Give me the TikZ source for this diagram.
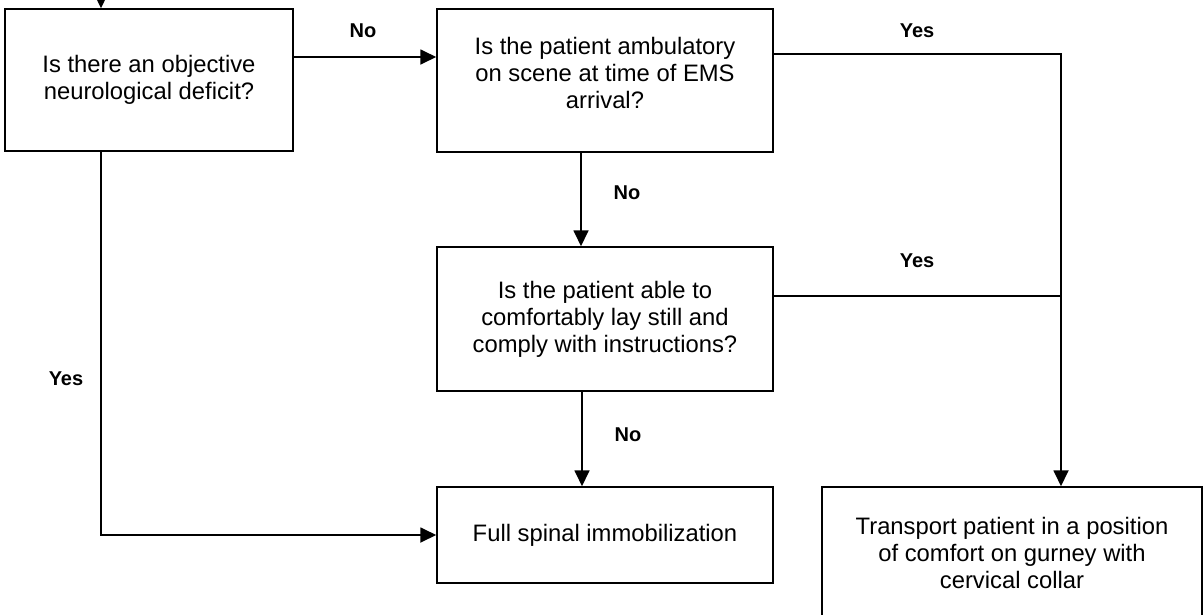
\documentclass[tikz,border=0pt]{standalone}
\usepackage{fontspec}
\setmainfont{Liberation Sans}
\usetikzlibrary{arrows.meta}
\begin{document}
\begin{tikzpicture}[x=1pt,y=-1pt,
  box/.style={draw=black,line width=1.5pt,rectangle,align=center,inner sep=0pt,
    font=\fontsize{23.8}{27}\selectfont},
  lbl/.style={font=\fontsize{20}{24}\selectfont\bfseries,inner sep=0pt},
  conn/.style={line width=1.8pt},
  arr/.style={conn,-{Triangle[length=16pt,width=15pt]}}]
\useasboundingbox (0,0) rectangle (1203,614);
\clip (0,0) rectangle (1203,614);
\node[box,minimum width=288pt,minimum height=142pt] (A) at (149,80) {Is there an objective\\neurological deficit?\\[-22pt]\mbox{}};
\node[box,minimum width=336pt,minimum height=143pt] (B) at (605,80.5) {Is the patient ambulatory\\on scene at time of EMS\\arrival?\\[-11pt]\mbox{}};
\node[box,minimum width=336pt,minimum height=144pt] (C) at (605,319) {Is the patient able to\\comfortably lay still and\\comply with instructions?};
\node[box,minimum width=336pt,minimum height=96pt] (D) at (605,535) {Full spinal immobilization};
\node[box,minimum width=380pt,minimum height=132pt] (E) at (1012,553) {Transport patient in a position\\of comfort on gurney with\\cervical collar};
\coordinate (S) at (101,-30);
\coordinate (J) at (1061,54);
\coordinate (K) at (1061,296);
\coordinate (L) at (101,535);
% connectors
\draw[arr] (S) -- (S |- A.north);
\draw[arr] (A.east |- 0,57) -- (B.west |- 0,57);
\draw[conn] (B.east |- J) -- (J) -- (K);
\draw[conn] (C.east |- K) -- (K);
\draw[arr] (K) -- (E.north -| K);
\draw[arr] (B.south -| 581,0) -- (C.north -| 581,0);
\draw[arr] (C.south -| 582,0) -- (D.north -| 582,0);
\draw[arr] (A.south -| L) -- (L) -- (D.west);
% labels
\node[lbl] (l1) at (363,31) {No};
\node[lbl] (l2) at (917,31) {Yes};
\node[lbl] (l3) at (627,193) {No};
\node[lbl] (l4) at (917,261) {Yes};
\node[lbl] (l5) at (628,435) {No};
\node[lbl] (l6) at (66,379) {Yes};
\end{tikzpicture}
\end{document}
